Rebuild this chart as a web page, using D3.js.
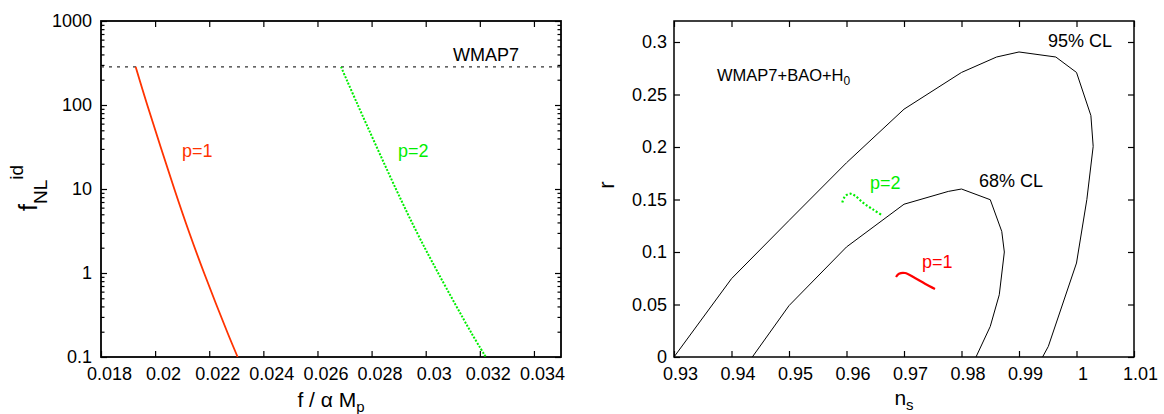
<!DOCTYPE html>
<html>
<head>
<meta charset="utf-8">
<script src="https://cdn.jsdelivr.net/npm/d3@7"></script>
<style>
body { margin: 0; background: #fff; }
svg text { font-family: "Liberation Sans", Arial, Helvetica, sans-serif; fill: #000; }
</style>
</head>
<body>
<svg id="chart" width="1164" height="414"></svg>
<script>
/* Left panel: f_NL^id against f / alpha M_p, one curve per p.
   Right panel: (n_s, r) with the WMAP7+BAO+H0 contours. */

// left panel data
const fnlLevels = [285, 100, 10, 2.97, 1, 0.193, 0.1];
const fRed = [0.01928, 0.01971, 0.02071, 0.02127, 0.02181, 0.02268, 0.02305];
const fGreen = [0.02687, 0.02749, 0.02890, 0.02969, 0.03046, 0.03169, 0.03222];
const wmap7Bound = 285;
const leftXTicks = [0.018, 0.02, 0.022, 0.024, 0.026, 0.028, 0.03, 0.032, 0.034];
const leftYTicks = [0.1, 1, 10, 100, 1000];

// right panel data
const ns95 = [0.93, 0.94, 0.95, 0.96, 0.97, 0.98, 0.9861, 0.99, 0.9964, 1.0, 1.0025, 1.0029, 1.0018, 1.0, 0.9951, 0.9941];
const r95 = [0, 0.0746, 0.13, 0.185, 0.236, 0.271, 0.2857, 0.2905, 0.2857, 0.271, 0.23, 0.2006, 0.15, 0.0895, 0.0101, 0];
const ns68 = [0.94362, 0.95, 0.96, 0.97, 0.9777, 0.98, 0.985, 0.987, 0.98745, 0.98657, 0.985, 0.98252];
const r68 = [0, 0.0489, 0.1048, 0.1455, 0.1577, 0.16, 0.1498, 0.1196, 0.1, 0.0593, 0.0291, 0];
const nsRed = [0.96861, 0.96913, 0.97017, 0.97191, 0.97365, 0.97539];
const rRed = [0.0762, 0.0793, 0.0800, 0.0752, 0.0698, 0.0648];
const nsGreen = [0.95927, 0.95974, 0.96061, 0.96148, 0.96292, 0.96466, 0.9663];
const rGreen = [0.1472, 0.1530, 0.1555, 0.1536, 0.1467, 0.1403, 0.1346];
const rightXTicks = [0.93, 0.94, 0.95, 0.96, 0.97, 0.98, 0.99, 1.0, 1.01];
const rightYTicks = [0, 0.05, 0.1, 0.15, 0.2, 0.25, 0.3];

const RED_LEFT = '#ff3300';
const RED_RIGHT = '#ff0000';
const GREEN = '#00ee00';
const TICK_FONT = 18;

const svg = d3.select('#chart');
svg.append('rect').attr('width', 1164).attr('height', 414).attr('fill', '#fff');

const zip = (xs, ys) => xs.map((x, i) => [x, ys[i]]);

// draws inward ticks on all four sides, labels on bottom/left only
function drawFrame(g, x, y, opts) {
    const [x0, x1] = x.range(), [y0, y1] = y.range();
    const fmt = opts.format || (d => String(d));

    let bottom = g.append('g').attr('transform', `translate(0,${y0})`)
        .call(d3.axisBottom(x).tickValues(opts.xTicks).tickSize(-opts.major).tickPadding(10).tickFormat(fmt));
    bottom.selectAll('text').attr('dx', opts.xLabelShift).style('font-size', TICK_FONT + 'px');
    g.append('g').attr('transform', `translate(0,${y1})`)
        .call(d3.axisTop(x).tickValues(opts.xTicks).tickSize(-opts.major).tickFormat(''));

    let left = g.append('g').attr('transform', `translate(${x0},0)`)
        .call(d3.axisLeft(y).tickValues(opts.yTicks).tickSize(-opts.major).tickPadding(opts.yPad).tickFormat(fmt));
    left.selectAll('text').style('font-size', TICK_FONT + 'px');
    g.append('g').attr('transform', `translate(${x1},0)`)
        .call(d3.axisRight(y).tickValues(opts.yTicks).tickSize(-opts.major).tickFormat(''));

    if (opts.yMinor) {
        g.append('g').attr('transform', `translate(${x0},0)`)
            .call(d3.axisLeft(y).tickValues(opts.yMinor).tickSize(-opts.minor).tickFormat(''));
        g.append('g').attr('transform', `translate(${x1},0)`)
            .call(d3.axisRight(y).tickValues(opts.yMinor).tickSize(-opts.minor).tickFormat(''));
    }
    g.selectAll('.domain').remove();
    g.selectAll('.tick line').attr('stroke', '#000').attr('stroke-width', 1.2);

    g.append('rect')
        .attr('x', x0).attr('y', y1)
        .attr('width', x1 - x0).attr('height', y0 - y1)
        .attr('fill', 'none').attr('stroke', '#000').attr('stroke-width', opts.frameWidth);
}

/* ---------- left panel ---------- */
const xL = d3.scaleLinear().domain([0.018, 0.035]).range([101, 561]);
const yL = d3.scaleLog().domain([0.1, 1000]).range([357, 21]);
const gL = svg.append('g');

let minorL = [];
for (let k = -1; k < 3; k++) {
    for (let m = 2; m < 10; m++) minorL.push(m * Math.pow(10, k));
}
drawFrame(gL, xL, yL, {
    xTicks: leftXTicks, yTicks: leftYTicks, yMinor: minorL,
    major: 6, minor: 3.5, yPad: 9, xLabelShift: 8, frameWidth: 1.8,
    format: d => String(d)
});

const lineL = d3.line().x(d => xL(d[0])).y(d => yL(d[1])).curve(d3.curveCatmullRom);

gL.append('line')
    .attr('x1', xL.range()[0]).attr('x2', xL.range()[1])
    .attr('y1', yL(wmap7Bound)).attr('y2', yL(wmap7Bound))
    .attr('stroke', '#333').attr('stroke-width', 1.2).attr('stroke-dasharray', '3,5');

gL.append('path').datum(zip(fRed, fnlLevels))
    .attr('d', lineL).attr('fill', 'none')
    .attr('stroke', RED_LEFT).attr('stroke-width', 1.8);
gL.append('path').datum(zip(fGreen, fnlLevels))
    .attr('d', lineL).attr('fill', 'none')
    .attr('stroke', GREEN).attr('stroke-width', 2).attr('stroke-dasharray', '2,1.5');

gL.append('text').attr('x', 453).attr('y', 61).style('font-size', '18px').text('WMAP7');
gL.append('text').attr('x', 182).attr('y', 157).style('font-size', '18px').style('fill', RED_LEFT).text('p=1');
gL.append('text').attr('x', 398).attr('y', 157).style('font-size', '18px').style('fill', GREEN).text('p=2');

// x label: f / α M_p
let xlabL = gL.append('text').attr('x', 331).attr('y', 407)
    .attr('text-anchor', 'middle').style('font-size', '21px');
xlabL.append('tspan').text('f / α M');
xlabL.append('tspan').attr('dy', 5).style('font-size', '15px').text('p');

// y label: f_NL^id
let ylabL = gL.append('text')
    .attr('transform', 'translate(37,188) rotate(-90)')
    .attr('text-anchor', 'middle').style('font-size', '25px');
ylabL.append('tspan').text('f');
ylabL.append('tspan').attr('dy', 10).style('font-size', '19px').text('NL');
ylabL.append('tspan').attr('dy', -24).style('font-size', '19px').text('id');

/* ---------- right panel ---------- */
const xR = d3.scaleLinear().domain([0.93, 1.01]).range([674, 1134]);
const yR = d3.scaleLinear().domain([0, 0.32]).range([357, 21]);
const gR = svg.append('g');

drawFrame(gR, xR, yR, {
    xTicks: rightXTicks, yTicks: rightYTicks,
    major: 6, yPad: 7, xLabelShift: 6, frameWidth: 1.5,
    format: d => String(+d.toFixed(2))
});

const lineR = d3.line().x(d => xR(d[0])).y(d => yR(d[1]));
const smoothR = d3.line().x(d => xR(d[0])).y(d => yR(d[1])).curve(d3.curveCatmullRom);

gR.append('path').datum(zip(ns95, r95))
    .attr('d', lineR).attr('fill', 'none').attr('stroke', '#000').attr('stroke-width', 1);
gR.append('path').datum(zip(ns68, r68))
    .attr('d', lineR).attr('fill', 'none').attr('stroke', '#000').attr('stroke-width', 1);
gR.append('path').datum(zip(nsRed, rRed))
    .attr('d', smoothR).attr('fill', 'none').attr('stroke', RED_RIGHT).attr('stroke-width', 2.2);
gR.append('path').datum(zip(nsGreen, rGreen))
    .attr('d', smoothR).attr('fill', 'none').attr('stroke', GREEN)
    .attr('stroke-width', 2.2).attr('stroke-dasharray', '2,2');

let wm = gR.append('text').attr('x', 717).attr('y', 81).style('font-size', '16.5px');
wm.append('tspan').text('WMAP7+BAO+H');
wm.append('tspan').attr('dy', 4).style('font-size', '12px').text('0');

gR.append('text').attr('x', 1048).attr('y', 47).style('font-size', '18px').text('95% CL');
gR.append('text').attr('x', 979).attr('y', 187).style('font-size', '18px').text('68% CL');
gR.append('text').attr('x', 870).attr('y', 189).style('font-size', '18px').style('fill', GREEN).text('p=2');
gR.append('text').attr('x', 922).attr('y', 268).style('font-size', '18px').style('fill', RED_RIGHT).text('p=1');

let xlabR = gR.append('text').attr('x', 904).attr('y', 405)
    .attr('text-anchor', 'middle').style('font-size', '21px');
xlabR.append('tspan').text('n');
xlabR.append('tspan').attr('dy', 5).style('font-size', '15px').text('s');

gR.append('text')
    .attr('transform', 'translate(614,185) rotate(-90)')
    .attr('text-anchor', 'middle').style('font-size', '22px').text('r');
</script>
</body>
</html>
